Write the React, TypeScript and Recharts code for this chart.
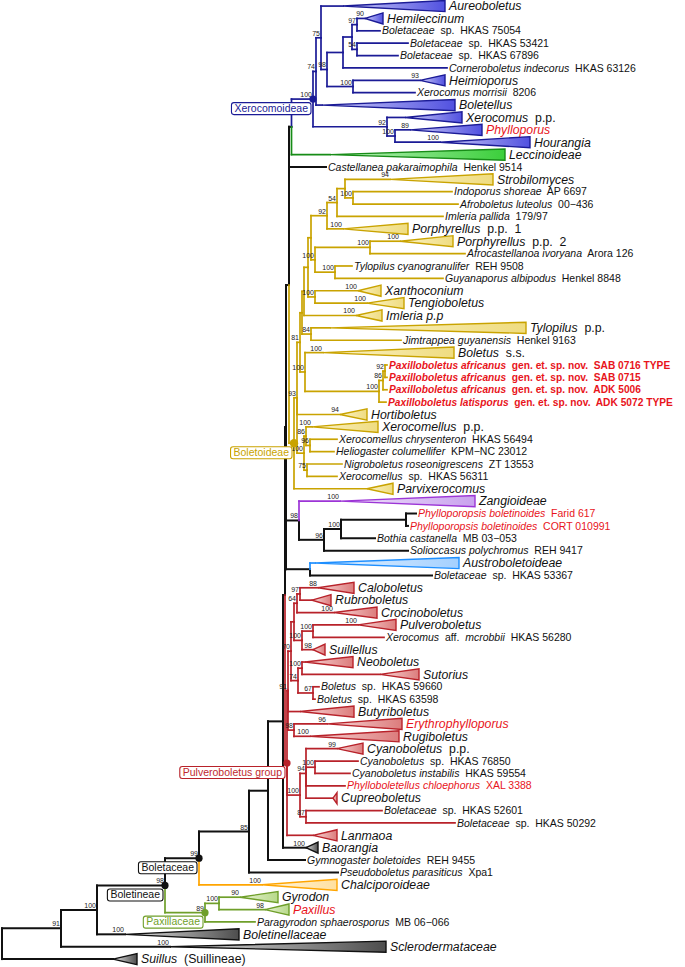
import React from "react";
import {
  ComposedChart,
  XAxis,
  YAxis,
  ReferenceLine,
  ReferenceArea,
  Scatter,
} from "recharts";

const FONT = "'Liberation Sans', Arial, Helvetica, sans-serif";
const RED = "#e8141b";

// internal nodes: [id, parent, depth from root, bootstrap]
const internalNodes: [string, string | null, number, string][] = [
  ["root", null, 2, ""],
  ["A", "root", 61, "91"],
  ["B", "A", 97, "100"],
  ["C", "B", 165, "98"],
  ["D", "C", 199, "99"],
  ["F", "D", 249, "85"],
  ["G", "F", 268, ""],
  ["H", "G", 283, ""],
  ["J", "H", 285, ""],
  ["Nc", "J", 286, ""],
  ["Na", "Nc", 289, ""],
  ["XL", "Na", 291.5, ""],
  ["X0", "XL", 313, "100"],
  ["Xa", "X0", 316, "74"],
  ["Xd", "Xa", 321, "75"],
  ["Xe", "Xd", 327, "98"],
  ["Xf", "Xe", 343, ""],
  ["Xi", "Xf", 352, ""],
  ["Xg", "Xi", 357, "97"],
  ["Xh", "Xi", 357, "54"],
  ["Xj", "Xe", 353, "100"],
  ["Xb", "X0", 387, "92"],
  ["Xc", "Xb", 395, "100"],
  ["B0", "Na", 294, ""],
  ["Bt", "B0", 297, "93"],
  ["Bu", "Bt", 300, "81"],
  ["S15", "Bu", 302, ""],
  ["S11", "S15", 304, ""],
  ["S10", "S11", 308, ""],
  ["S8", "S10", 311, ""],
  ["S4", "S8", 327, "92"],
  ["S3", "S4", 337, "54"],
  ["S2", "S3", 345, ""],
  ["S1", "S2", 353, "100"],
  ["S7", "S8", 315, "100"],
  ["S5", "S7", 370, "100"],
  ["S6", "S7", 335, "100"],
  ["S9", "S10", 315, "100"],
  ["S12", "S15", 311, "84"],
  ["S14", "Bu", 305, "100"],
  ["Pa", "S14", 379, "100"],
  ["Pb", "Pa", 383, "86"],
  ["Pc", "Pb", 385, "92"],
  ["Hy", "Bt", 304, "100"],
  ["Hx", "Hy", 306, "86"],
  ["Hh", "Hx", 310, "96"],
  ["Ng", "Hy", 307, "75"],
  ["Z1", "Nc", 299, "98"],
  ["Z2", "Z1", 324, "96"],
  ["Z3", "Z2", 341, "100"],
  ["Z4", "Z3", 406, ""],
  ["Au", "Nc", 310, ""],
  ["P", "J", 287, ""],
  ["Pu", "P", 288, "91"],
  ["Pv", "Pu", 291, "70"],
  ["Pw", "Pv", 294, ""],
  ["R2", "Pw", 297, "64"],
  ["R1", "R2", 300, "97"],
  ["R4", "Pw", 302, "100"],
  ["R3", "R4", 313, "100"],
  ["R7", "Pv", 298, "74"],
  ["R5", "R7", 302, "100"],
  ["R6", "R7", 313, "67"],
  ["R8", "Pu", 294, "98"],
  ["Cz", "P", 300, "100"],
  ["Cy", "Cz", 306, "94"],
  ["R9", "Cy", 315, "100"],
  ["Bx", "Cz", 306, "87"],
  ["E", "C", 205, "89"],
  ["E1", "E", 219, "100"],
];

// tips from top to bottom; *...* = italic; end = tip of a collapsed clade
type Tip = {
  label: string;
  parent: string;
  depth: number;
  end?: number;
  support?: string;
  tag?: "new" | "newBold";
};

const tips: Tip[] = [
  { label: "*Aureoboletus*", parent: "Xd", depth: 343, end: 445 },
  { label: "*Hemileccinum*", parent: "Xg", depth: 365, end: 383, support: "90" },
  { label: "*Boletaceae*  sp.  HKAS 75054", parent: "Xg", depth: 380 },
  { label: "*Boletaceae*  sp.  HKAS 53421", parent: "Xh", depth: 408 },
  { label: "*Boletaceae*  sp.  HKAS 67896", parent: "Xh", depth: 398 },
  { label: "*Corneroboletus indecorus*  HKAS 63126", parent: "Xf", depth: 447 },
  { label: "*Heimioporus*", parent: "Xj", depth: 420, end: 445, support: "93" },
  { label: "*Xerocomus morrisii*  8206", parent: "Xj", depth: 415 },
  { label: "*Boletellus*", parent: "Xa", depth: 322, end: 455 },
  { label: "*Xerocomus*  p.p.", parent: "Xb", depth: 405, end: 462 },
  { label: "*Phylloporus*", parent: "Xc", depth: 410, end: 482, support: "89", tag: "new" },
  { label: "*Hourangia*", parent: "Xc", depth: 440, end: 530, support: "100" },
  { label: "*Leccinoideae*", parent: "XL", depth: 330, end: 505 },
  { label: "*Castellanea pakaraimophila*  Henkel 9514", parent: "Na", depth: 326 },
  { label: "*Strobilomyces*", parent: "S2", depth: 390, end: 493, support: "94" },
  { label: "*Indoporus shoreae*  AP 6697", parent: "S1", depth: 452 },
  { label: "*Afroboletus luteolus*  00−436", parent: "S1", depth: 458 },
  { label: "*Imleria pallida*  179/97", parent: "S3", depth: 443 },
  { label: "*Porphyrellus*  p.p.  1", parent: "S4", depth: 343, end: 408, support: "100" },
  { label: "*Porphyrellus*  p.p.  2", parent: "S5", depth: 400, end: 453, support: "100" },
  { label: "*Afrocastellanoa ivoryana*  Arora 126", parent: "S5", depth: 465 },
  { label: "*Tylopilus cyanogranulifer*  REH 9508", parent: "S6", depth: 352 },
  { label: "*Guyanaporus albipodus*  Henkel 8848", parent: "S6", depth: 443 },
  { label: "*Xanthoconium*", parent: "S9", depth: 358, end: 381, support: "100" },
  { label: "*Tengioboletus*", parent: "S9", depth: 367, end: 404, support: "100" },
  { label: "*Imleria p.p*", parent: "S11", depth: 356, end: 382, support: "100" },
  { label: "*Tylopilus*  p.p.", parent: "S12", depth: 330, end: 526 },
  { label: "*Jimtrappea guyanensis*  Henkel 9163", parent: "S12", depth: 401 },
  { label: "*Boletus*  s.s.", parent: "S14", depth: 323, end: 454, support: "100" },
  { label: "*Paxilloboletus africanus*  gen. et. sp. nov.  SAB 0716 TYPE", parent: "Pc", depth: 387, tag: "newBold" },
  { label: "*Paxilloboletus africanus*  gen. et. sp. nov.  SAB 0715", parent: "Pc", depth: 387, tag: "newBold" },
  { label: "*Paxilloboletus africanus*  gen. et. sp. nov.  ADK 5006", parent: "Pb", depth: 387, tag: "newBold" },
  { label: "*Paxilloboletus latisporus*  gen. et. sp. nov.  ADK 5072 TYPE", parent: "Pa", depth: 386, tag: "newBold" },
  { label: "*Hortiboletus*", parent: "Bt", depth: 340, end: 367, support: "94" },
  { label: "*Xerocomellus*  p.p.", parent: "Hx", depth: 312, end: 378, support: "100" },
  { label: "*Xerocomellus chrysenteron*  HKAS 56494", parent: "Hh", depth: 337 },
  { label: "*Heliogaster columellifer*  KPM−NC 23012", parent: "Hh", depth: 334 },
  { label: "*Nigroboletus roseonigrescens*  ZT 13553", parent: "Ng", depth: 342 },
  { label: "*Xerocomellus*  sp.  HKAS 56311", parent: "Ng", depth: 337 },
  { label: "*Parvixerocomus*", parent: "B0", depth: 367, end: 393 },
  { label: "*Zangioideae*", parent: "Z1", depth: 340, end: 475, support: "100" },
  { label: "*Phylloporopsis boletinoides*  Farid 617", parent: "Z4", depth: 416, tag: "new" },
  { label: "*Phylloporopsis boletinoides*  CORT 010991", parent: "Z4", depth: 408, tag: "new" },
  { label: "*Bothia castanella*  MB 03−053", parent: "Z3", depth: 375 },
  { label: "*Solioccasus polychromus*  REH 9417", parent: "Z2", depth: 408 },
  { label: "*Austroboletoideae*", parent: "Au", depth: 315, end: 459 },
  { label: "*Boletaceae*  sp.  HKAS 53367", parent: "Au", depth: 432 },
  { label: "*Caloboletus*", parent: "R1", depth: 318, end: 354, support: "88" },
  { label: "*Rubroboletus*", parent: "R1", depth: 312, end: 331 },
  { label: "*Crocinoboletus*", parent: "R2", depth: 334, end: 377, support: "100" },
  { label: "*Pulveroboletus*", parent: "R3", depth: 358, end: 396, support: "100" },
  { label: "*Xerocomus*  aff.  *mcrobbii*  HKAS 56280", parent: "R3", depth: 384 },
  { label: "*Suillellus*", parent: "R4", depth: 313, end: 325, support: "98" },
  { label: "*Neoboletus*", parent: "R5", depth: 305, end: 353 },
  { label: "*Sutorius*", parent: "R5", depth: 380, end: 419 },
  { label: "*Boletus*  sp.  HKAS 59660", parent: "R6", depth: 319 },
  { label: "*Boletus*  sp.  HKAS 63598", parent: "R6", depth: 315 },
  { label: "*Butyriboletus*", parent: "Pu", depth: 300, end: 354 },
  { label: "*Erythrophylloporus*", parent: "R8", depth: 327, end: 402, support: "96", tag: "new" },
  { label: "*Rugiboletus*", parent: "R8", depth: 310, end: 399, support: "100" },
  { label: "*Cyanoboletus*  p.p.", parent: "Cy", depth: 337, end: 363, support: "99" },
  { label: "*Cyanoboletus*  sp.  HKAS 76850", parent: "R9", depth: 358 },
  { label: "*Cyanoboletus instabilis*  HKAS 59554", parent: "R9", depth: 350 },
  { label: "*Phylloboletellus chloephorus*  XAL 3388", parent: "Cy", depth: 345, tag: "new" },
  { label: "*Cupreoboletus*", parent: "Cy", depth: 333, end: 337 },
  { label: "*Boletaceae*  sp.  HKAS 52601", parent: "Bx", depth: 382 },
  { label: "*Boletaceae*  sp.  HKAS 50292", parent: "Bx", depth: 455 },
  { label: "*Lanmaoa*", parent: "P", depth: 313, end: 337 },
  { label: "*Baorangia*", parent: "H", depth: 306, end: 318, support: "100" },
  { label: "*Gymnogaster boletoides*  REH 9455", parent: "G", depth: 305 },
  { label: "*Pseudoboletus parasiticus*  Xpa1", parent: "F", depth: 338 },
  { label: "*Chalciporoideae*", parent: "D", depth: 262, end: 337, support: "100" },
  { label: "*Gyrodon*", parent: "E1", depth: 240, end: 278, support: "90" },
  { label: "*Paxillus*", parent: "E1", depth: 265, end: 289, support: "98", tag: "new" },
  { label: "*Paragyrodon sphaerosporus*  MB 06−066", parent: "E", depth: 255 },
  { label: "*Boletinellaceae*", parent: "B", depth: 125, end: 239, support: "100" },
  { label: "*Sclerodermataceae*", parent: "A", depth: 170, end: 386, support: "100" },
  { label: "*Suillus*  (Suillineae)", parent: "root", depth: 113, end: 137 },
];

// subtrees that get their own colour
const cladeRoots: Record<string, string> = {
  X0: "xero",
  Leccinoideae: "lecc",
  B0: "bolet",
  Zangioideae: "zang",
  Austroboletoideae: "austro",
  P: "pulv",
  Chalciporoideae: "chalc",
  E: "paxil",
  Baorangia: "grey",
  Boletinellaceae: "grey",
  Sclerodermataceae: "grey",
  "Suillus (Suillineae)": "grey",
};

// boxed names at marked nodes
const groups: [string, string][] = [
  ["X0", "Xerocomoideae"],
  ["B0", "Boletoideae"],
  ["P", "Pulveroboletus group"],
  ["D", "Boletaceae"],
  ["C", "Boletineae"],
  ["E", "Paxillaceae"],
];

const palette: Record<string, { line: string; fill: [string, string]; text: string }> = {
  black: { line: "#111111", fill: ["#e6e6e6", "#4a4a4a"], text: "#111111" },
  grey: { line: "#111111", fill: ["#e8e8e8", "#4d4d4d"], text: "#111111" },
  xero: { line: "#1b1b96", fill: ["#cfcff8", "#5151e0"], text: "#1b1b96" },
  lecc: { line: "#178c17", fill: ["#c2f2c2", "#3bcf3b"], text: "#178c17" },
  bolet: { line: "#c9a300", fill: ["#fbf3c8", "#efdc80"], text: "#c9a300" },
  zang: { line: "#9c35d6", fill: ["#f0e4fa", "#c9a2ee"], text: "#9c35d6" },
  austro: { line: "#1e8fff", fill: ["#e6f3ff", "#a4d0ff"], text: "#1e8fff" },
  pulv: { line: "#b8222a", fill: ["#f8d8d8", "#dc7c7c"], text: "#c0282e" },
  chalc: { line: "#ffa500", fill: ["#fff6df", "#ffe0a0"], text: "#ffa500" },
  paxil: { line: "#6f9f2a", fill: ["#e8f3d3", "#b7d98a"], text: "#6f9f2a" },
};

const plain = (s: string) => s.replace(/\*/g, "").replace(/\s+/g, " ");

type TreeNode = {
  id: string;
  parent: string | null;
  x: number;
  y: number;
  support: string;
  clade: string;
  kids: TreeNode[];
  tip?: Tip;
};

function buildTree() {
  const map = new Map<string, TreeNode>();
  internalNodes.forEach(([id, parent, depth, support]) =>
    map.set(id, { id, parent, x: depth, y: NaN, support, clade: "black", kids: [] })
  );
  tips.forEach((t, i) => {
    const id = plain(t.label);
    map.set(id, { id, parent: t.parent, x: t.depth, y: i, support: t.support ?? "", clade: "black", kids: [], tip: t });
  });
  map.forEach((n) => {
    if (n.parent) map.get(n.parent)!.kids.push(n);
  });
  const place = (n: TreeNode, clade: string) => {
    n.clade = cladeRoots[n.id] ?? clade;
    n.kids.forEach((k) => place(k, n.clade));
    if (!n.tip) {
      const ys = n.kids.map((k) => k.y);
      n.y = (Math.min(...ys) + Math.max(...ys)) / 2;
    }
  };
  place(map.get("root")!, "black");
  return map;
}

const tree = buildTree();

const CW: Record<string, number> = {
  a: 0.556, b: 0.556, c: 0.5, d: 0.556, e: 0.556, g: 0.556, i: 0.222, l: 0.222,
  m: 0.833, n: 0.556, o: 0.556, p: 0.556, r: 0.333, s: 0.5, t: 0.278, u: 0.556,
  v: 0.5, x: 0.5, " ": 0.278, B: 0.667, P: 0.667, X: 0.667,
};
const textWidth = (s: string, size: number) =>
  s.split("").reduce((w, ch) => w + (CW[ch] ?? 0.56), 0) * size;

function RichText({ text }: { text: string }) {
  return (
    <>
      {text.split("*").map((part, i) =>
        part ? (
          <tspan key={i} fontStyle={i % 2 === 1 ? "italic" : "normal"}>
            {part}
          </tspan>
        ) : null
      )}
    </>
  );
}

function TipLabel(props: any) {
  const { cx, cy, payload } = props;
  const big = payload.big;
  const bold = payload.tag === "newBold";
  const size = big ? 12.3 : bold ? 10.2 : 10.5;
  return (
    <text
      x={cx + (big ? 4 : 2)}
      y={cy}
      dy={size * 0.35}
      fontSize={size}
      fontFamily={FONT}
      fontWeight={bold ? "bold" : "normal"}
      fill={payload.tag ? RED : "#111"}
      style={{ whiteSpace: "pre" }}
    >
      <RichText text={payload.label} />
    </text>
  );
}

function SupportLabel(props: any) {
  const { cx, cy, payload } = props;
  return (
    <text
      x={cx - 1}
      y={cy - 2}
      fontSize={7}
      fontFamily={FONT}
      fill="#222"
      stroke="none"
      textAnchor="end"
    >
      {payload.text}
    </text>
  );
}

function GroupLabel(props: any) {
  const { cx, cy, payload } = props;
  const pal = palette[payload.clade];
  const w = textWidth(payload.name, 10.5) + 6;
  const bx = cx - 2 - w;
  const by = cy + 3.5;
  return (
    <g>
      <rect x={bx} y={by} width={w} height={12} rx={2.5} fill="#fff" stroke={pal.line} strokeWidth={1.1} />
      <text x={bx + w / 2} y={by + 9.3} textAnchor="middle" fontSize={10.5} fontFamily={FONT} fill={pal.text}>
        {payload.name}
      </text>
      <circle cx={cx} cy={cy} r={payload.clade === "bolet" ? 4.2 : 3.6} fill={pal.line} />
    </g>
  );
}

const triangleShape = (clade: string) => (props: any) => {
  const { x, y, width, height } = props;
  const top = Math.min(y, y + height);
  const h = Math.abs(height);
  const left = Math.min(x, x + width);
  const w = Math.abs(width);
  return (
    <path
      d={`M${left},${top + h / 2}L${left + w},${top}L${left + w},${top + h}Z`}
      fill={`url(#grad-${clade})`}
      stroke={palette[clade].line}
      strokeWidth={1.4}
    />
  );
};

export default function App() {
  const nodes = Array.from(tree.values());

  const segments: { key: string; a: { x: number; y: number }; b: { x: number; y: number }; clade: string }[] = [];
  nodes.forEach((n) => {
    if (!n.parent) return;
    const p = tree.get(n.parent)!;
    segments.push({ key: n.id + "-v", a: { x: p.x, y: p.y }, b: { x: p.x, y: n.y }, clade: n.clade });
    segments.push({ key: n.id + "-h", a: { x: p.x, y: n.y }, b: { x: n.x, y: n.y }, clade: n.clade });
  });
  const isBlack = (c: string) => (c === "black" || c === "grey" ? 0 : 1);
  segments.sort((s1, s2) => isBlack(s1.clade) - isBlack(s2.clade));

  const collapsed = nodes.filter((n) => n.tip && n.tip.end !== undefined);

  const tipLabels = nodes
    .filter((n) => n.tip)
    .map((n) => ({
      x: n.tip!.end ?? n.x,
      y: n.y,
      label: n.tip!.label,
      tag: n.tip!.tag,
      big: n.tip!.end !== undefined,
    }));

  const supports = nodes.filter((n) => n.support).map((n) => ({ x: n.x, y: n.y, text: n.support }));

  const groupData = groups.map(([id, name]) => {
    const n = tree.get(id)!;
    return { x: n.x, y: n.y, name, clade: n.clade };
  });

  return (
    <div style={{ position: "absolute", left: 0, top: 0, background: "#fff" }}>
      <ComposedChart width={685} height={967} margin={{ top: 0, right: 0, bottom: 0, left: 0 }}>
        <defs>
          {Object.entries(palette).map(([k, p]) => (
            <linearGradient key={k} id={`grad-${k}`} x1="0" y1="0" x2="1" y2="0">
              <stop offset="0%" stopColor={p.fill[0]} />
              <stop offset="100%" stopColor={p.fill[1]} />
            </linearGradient>
          ))}
        </defs>
        <XAxis type="number" dataKey="x" domain={[0, 685]} hide allowDataOverflow />
        <YAxis type="number" dataKey="y" domain={[-0.49, 77.64]} reversed hide allowDataOverflow />
        {collapsed.map((n) => (
          <ReferenceArea
            key={"tri-" + n.id}
            x1={n.x}
            x2={n.tip!.end}
            y1={n.y - 0.45}
            y2={n.y + 0.45}
            ifOverflow="visible"
            shape={triangleShape(n.clade)}
          />
        ))}
        {segments.map((s) => (
          <ReferenceLine
            key={s.key}
            segment={[s.a, s.b]}
            stroke={palette[s.clade].line}
            strokeWidth={isBlack(s.clade) ? 1.7 : 2}
            strokeLinecap="square"
            ifOverflow="visible"
          />
        ))}
        <Scatter data={supports} dataKey="y" isAnimationActive={false} shape={SupportLabel} />
        <Scatter data={tipLabels} dataKey="y" isAnimationActive={false} shape={TipLabel} />
        <Scatter data={groupData} dataKey="y" isAnimationActive={false} shape={GroupLabel} />
      </ComposedChart>
    </div>
  );
}
